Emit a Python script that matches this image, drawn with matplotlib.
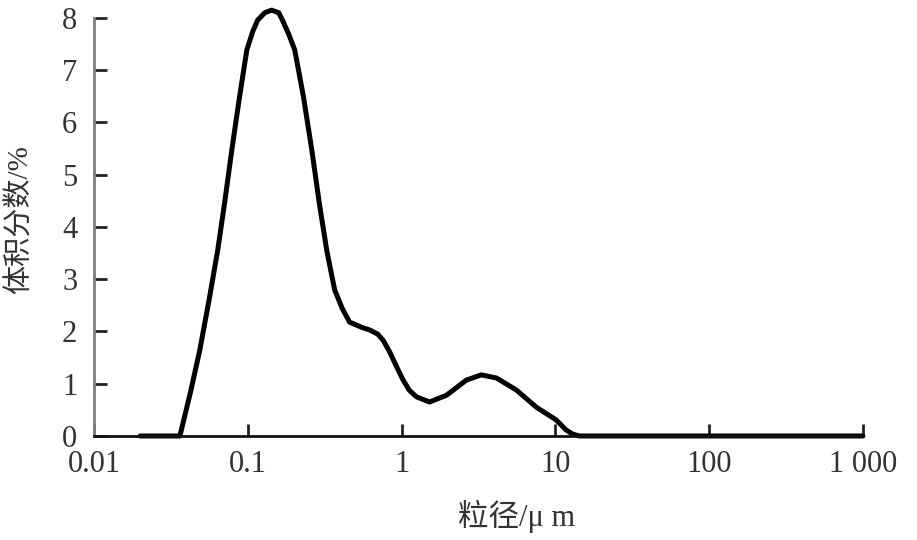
import numpy as np
import matplotlib
matplotlib.use("Agg")
import matplotlib.pyplot as plt

plt.rcParams['font.family'] = ['Liberation Serif', 'Noto Sans CJK SC', 'DejaVu Sans']

# particle size (um) and volume fraction (%)
size_um = [0.02, 0.0362, 0.0425, 0.0488, 0.0560, 0.0638, 0.0710, 0.0787, 0.0880,
           0.0986, 0.108, 0.116, 0.129, 0.143, 0.159, 0.168, 0.184, 0.202,
           0.230, 0.261, 0.292, 0.326, 0.367, 0.410, 0.459, 0.550, 0.619,
           0.700, 0.76, 0.84, 0.92, 1.02, 1.12, 1.25, 1.52, 1.96, 2.64, 3.30,
           4.14, 5.58, 7.53, 10.1, 11.8, 12.9, 14.3, 1000]
vol_pct = [0, 0, 0.85, 1.65, 2.6, 3.56, 4.5, 5.47, 6.45,
           7.39, 7.75, 7.96, 8.1, 8.15, 8.1, 7.96, 7.7, 7.39,
           6.5, 5.47, 4.45, 3.56, 2.8, 2.45, 2.18, 2.08, 2.03,
           1.95, 1.83, 1.6, 1.35, 1.08, 0.88, 0.75, 0.65, 0.78, 1.07, 1.17,
           1.11, 0.88, 0.55, 0.31, 0.11, 0.04, 0, 0]

xticks = [0.01, 0.1, 1, 10, 100, 1000]
xticklabels = ['0.01', '0.1', '1', '10', '100', '1 000']
yticks = [0, 1, 2, 3, 4, 5, 6, 7, 8]

fig = plt.figure(figsize=(9.17, 5.4), dpi=100)
ax = fig.add_axes([0.1025, 0.1926, 0.8385, 0.7741])

ax.plot(size_um, vol_pct, color='black', lw=3.6, clip_on=False,
        solid_joinstyle='round', solid_capstyle='round')

ax.set_xscale('log')
ax.set_xlim(0.01, 1000)
ax.set_ylim(0, 8)
ax.set_xticks(xticks)
ax.set_xticklabels(xticklabels)
ax.minorticks_off()
ax.set_yticks(yticks)

for s in ['top', 'right']:
    ax.spines[s].set_visible(False)
ax.spines['left'].set_color('#808080')
ax.spines['left'].set_linewidth(2)
ax.spines['bottom'].set_color('#111111')
ax.spines['bottom'].set_linewidth(2)

ax.tick_params(direction='in', length=9, width=2, color='#222222',
               labelsize=22, labelcolor='#333333')
ax.tick_params(axis='x', pad=10)
ax.tick_params(axis='y', pad=12)

ax.set_xlabel('粒径/μ m', fontsize=22, color='#333333')
ax.xaxis.set_label_coords(0.55, -0.152)
ax.set_ylabel('体积分数/%', fontsize=21, color='#333333')
ax.yaxis.set_label_coords(-0.078, 0.517)

fig.savefig('out.png', dpi=100)
